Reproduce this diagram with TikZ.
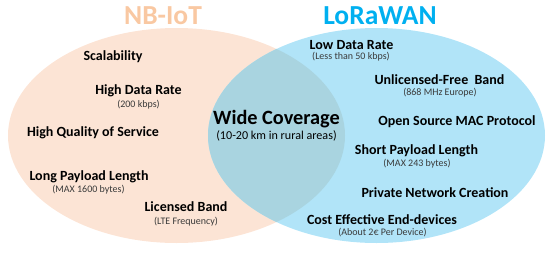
\documentclass[tikz,border=0pt]{standalone}
\usepackage{fontspec}
\setmainfont{Carlito}
\usepackage{xcolor}
\usepackage{tikz}
\definecolor{peach}{HTML}{FCE4D5}
\definecolor{sky}{HTML}{B1E4F8}
\definecolor{mist}{HTML}{A9D4E0}
\definecolor{apricot}{HTML}{F9C8A2}
\definecolor{azure}{HTML}{00B0F0}
\definecolor{ink}{HTML}{3A3A3A}

\begin{document}
\begin{tikzpicture}[x=1pt, y=-1pt,
  title/.style={font=\bfseries\fontsize{27.5}{30}\selectfont, inner sep=0pt},
  feat/.style={font=\bfseries\fontsize{14}{16}\selectfont, inner sep=0pt},
  note/.style={font=\fontsize{10}{12}\selectfont, ink, inner sep=0pt}]
  \useasboundingbox (0,0) rectangle (550,258);
  % the two sets and their overlap
  \fill[peach] (176.5,135.5) ellipse [x radius=168.5, y radius=107.5];
  \fill[sky] (376.5,135.5) ellipse [x radius=168.5, y radius=107.5];
  \begin{scope}
    \clip (176.5,135.5) ellipse [x radius=168.5, y radius=107.5];
    \fill[mist] (376.5,135.5) ellipse [x radius=168.5, y radius=107.5];
  \end{scope}
  \node[title, apricot] (nbiot) at (163,16) {NB-IoT};
  \node[title, azure] (lorawan) at (380,16) {LoRaWAN};
  % shared feature
  \node[font=\bfseries\fontsize{20.3}{22}\selectfont, inner sep=0pt] (cover) at (276.5,119) {Wide Coverage};
  \node[font=\fontsize{12.1}{14}\selectfont, inner sep=0pt] (coversub) at (276.5,136) {(10-20 km in rural areas)};
  % feature labels
  \foreach \nm/\x/\y/\lab in {
    scal/113/57/{Scalability},
    hirate/138.5/91/{High Data Rate},
    qos/93/133/{High Quality of Service},
    longpl/89/177/{Long Payload Length},
    licband/186/207/{Licensed Band},
    lorate/351.5/45/{Low Data Rate},
    freeband/439.5/80/{Unlicensed-Free\ \ Band},
    mac/457/122/{Open Source MAC Protocol},
    shortpl/416.5/151/{Short Payload Length},
    privnet/435/193/{Private Network Creation},
    cost/382/220/{Cost Effective End-devices}
  } {
    \node[feat] (\nm) at (\x,\y) {\lab};
  }
  % small notes under the labels
  \foreach \nm/\x/\y/\lab in {
    hiratesub/138.5/105/{(200 kbps)},
    longplsub/88.5/190/{(MAX 1600 bytes)},
    licbandsub/186/222/{(LTE Frequency)},
    loratesub/351/57/{(Less than 50 kbps)},
    freebandsub/440/93/{(868 MHz Europe)},
    shortplsub/417/164/{(MAX 243 bytes)},
    costsub/382.5/233/{(About 2€ Per Device)}
  } {
    \node[note] (\nm) at (\x,\y) {\lab};
  }
\end{tikzpicture}
\end{document}
